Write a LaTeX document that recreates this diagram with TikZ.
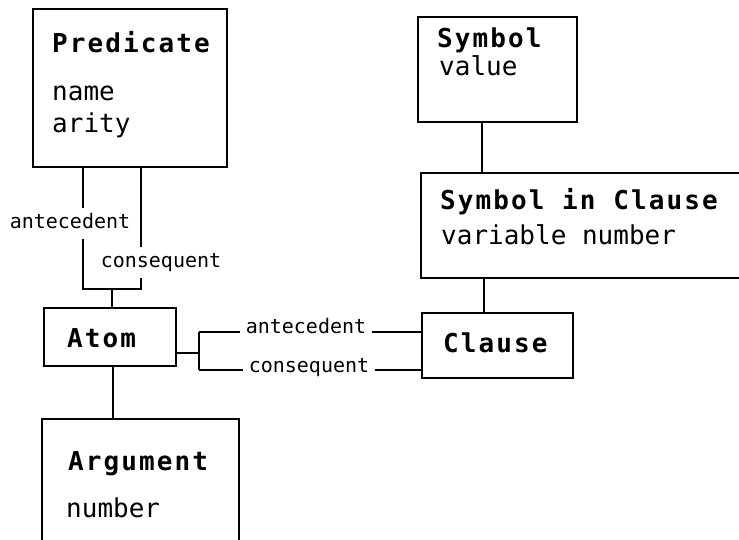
\documentclass[tikz,border=0pt]{standalone}
\usepackage{fontspec}
\newfontfamily\titlefont[LetterSpace=8]{DejaVu Sans Mono}
\newfontfamily\bodyfont{DejaVu Sans Mono}
\tikzset{
  box/.style={draw, line width=1.4pt, rectangle, inner sep=0pt},
  ttl/.style={anchor=base west, inner sep=0pt, font=\titlefont\bfseries\fontsize{26}{26}\selectfont},
  attr/.style={anchor=base west, inner sep=0pt, font=\bodyfont\fontsize{26}{26}\selectfont},
  lbl/.style={fill=white, inner xsep=6pt, inner ysep=8pt, text height=13pt, text depth=2pt,
              font=\bodyfont\fontsize{20}{20}\selectfont},
  conn/.style={line width=1.4pt}
}
\begin{document}
\begin{tikzpicture}[x=1pt, y=-1pt]
\useasboundingbox (0,0) rectangle (739,539);
\clip (0,0) rectangle (739,539);
% boxes
\node[box, minimum width=194pt, minimum height=158pt] (pred) at (130,88) {};
\node[box, minimum width=159pt, minimum height=105pt] (sym) at (497.5,69.5) {};
\node[box, minimum width=329pt, minimum height=105pt] (sic) at (585.5,225.5) {};
\node[box, minimum width=132pt, minimum height=58pt] (atom) at (110,337) {};
\node[box, minimum width=151pt, minimum height=65pt] (clause) at (497.5,345.5) {};
\node[box, minimum width=197pt, minimum height=141pt] (arg) at (140.5,489.5) {};
% texts
\node[ttl] (predT) at (52,52) {Predicate};
\node[attr] (predA1) at (52,100) {name};
\node[attr] (predA2) at (52,132) {arity};
\node[ttl] (symT) at (437,47) {Symbol};
\node[attr] (symA) at (439,75) {value};
\node[ttl] (sicT) at (440,209) {Symbol in Clause};
\node[attr] (sicA) at (441,244) {variable number};
\node[ttl] (atomT) at (67,347) {Atom};
\node[ttl] (clauseT) at (443,352) {Clause};
\node[ttl] (argT) at (68,470) {Argument};
\node[attr] (argA) at (66,517) {number};
% junction coordinates
\coordinate (j1) at (83,289);
\coordinate (j2) at (141,289);
\coordinate (j) at (112,289);
\coordinate (s1) at (482,150);
\coordinate (s2) at (484,295);
\coordinate (a1) at (113,390);
\coordinate (b) at (199,353);
\coordinate (ba) at (199,332);
\coordinate (bc) at (199,370);
% connectors
\draw[conn] (pred.south -| j1) -- (j1) -- (j2) -- (pred.south -| j2);
\draw[conn] (j) -- (atom.north -| j);
\draw[conn] (sym.south -| s1) -- (sic.north -| s1);
\draw[conn] (sic.south -| s2) -- (clause.north -| s2);
\draw[conn] (atom.south -| a1) -- (arg.north -| a1);
\draw[conn] (atom.east |- b) -- (b);
\draw[conn] (ba) -- (bc);
\draw[conn] (ba) -- (clause.west |- ba);
\draw[conn] (bc) -- (clause.west |- bc);
% labels
\node[lbl] (l1) at (70,223) {antecedent};
\node[lbl] (l2) at (161,262) {consequent};
\node[lbl] (l3) at (306,328) {antecedent};
\node[lbl] (l4) at (309,367) {consequent};
\end{tikzpicture}
\end{document}
